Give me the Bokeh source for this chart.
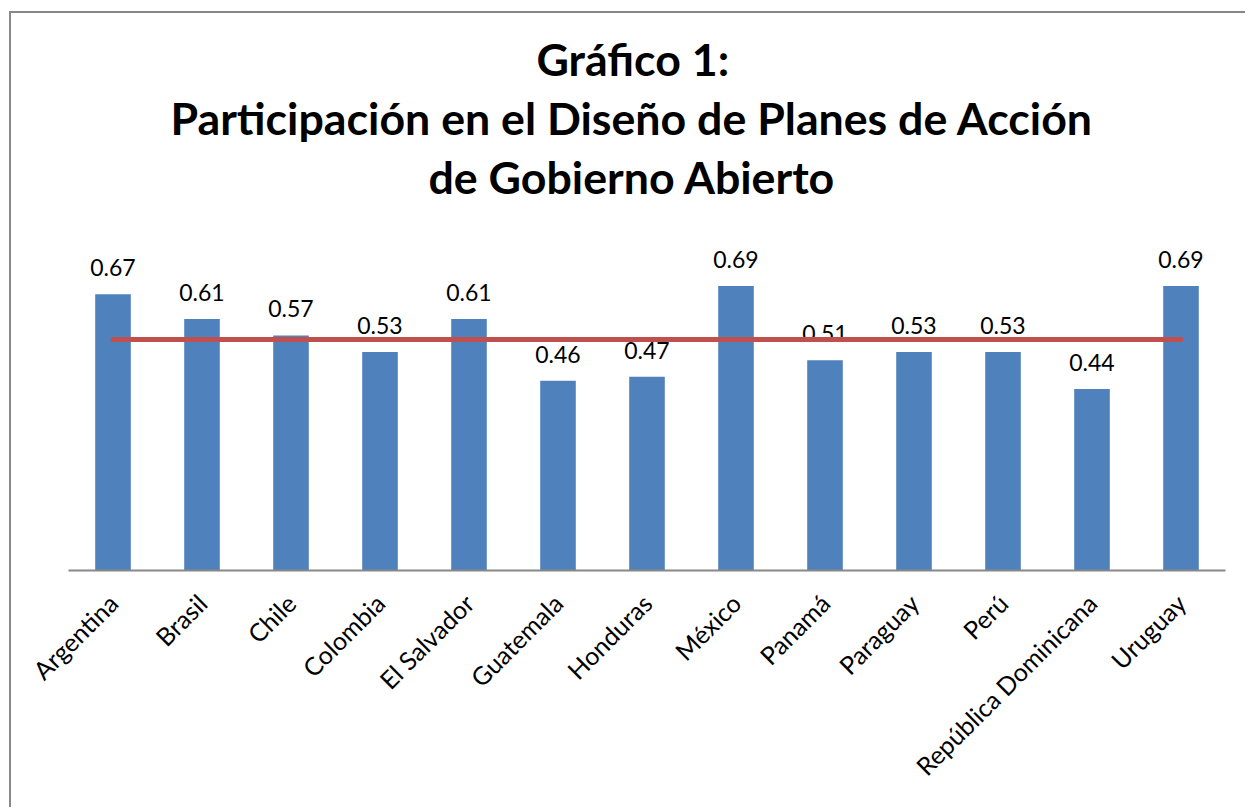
import math
from bokeh.plotting import figure
from bokeh.models import ColumnDataSource, LabelSet, Title, Range1d
from bokeh.core.properties import value
from bokeh.embed import file_html
from bokeh.resources import INLINE

# ---- data ----
paises = ["Argentina", "Brasil", "Chile", "Colombia", "El Salvador", "Guatemala",
          "Honduras", "México", "Panamá", "Paraguay", "Perú",
          "República Dominicana", "Uruguay"]
participacion = [0.67, 0.61, 0.57, 0.53, 0.61, 0.46, 0.47, 0.69, 0.51, 0.53, 0.53, 0.44, 0.69]
promedio = 0.56
titulo = ["Gráfico 1:",
          "Participación en el Diseño de Planes de Acción",
          "de Gobierno Abierto"]

FONT = "Lato"
BLUE = "#4F81BD"
RED = "#C0504D"

src = ColumnDataSource(dict(
    pais=paises,
    valor=participacion,
    etiqueta=[f"{v:.2f}" for v in participacion],
))

p = figure(x_range=paises, y_range=Range1d(0, 0.8),
           width=1236, height=796,
           min_border_left=57, min_border_right=22,
           min_border_top=227, min_border_bottom=239,
           y_axis_location=None,
           output_backend="svg", toolbar_location=None, tools="")
p.styles = {"border-left": "2px solid #888888", "border-top": "2px solid #888888",
            "margin-left": "9px", "margin-top": "11px"}
p.outline_line_color = None
p.xgrid.grid_line_color = None
p.ygrid.grid_line_color = None
p.x_range.range_padding = 0

p.vbar(x="pais", top="valor", width=0.4, source=src,
       fill_color=BLUE, line_color=None)

labels = LabelSet(x="pais", y="valor", text="etiqueta", source=src,
                  text_align="center", text_baseline="alphabetic", y_offset=18,
                  text_font=value(FONT), text_font_size=value("23px"), text_color="black")
p.add_layout(labels)

avg = p.line(x=[paises[0], paises[-1]], y=[promedio, promedio],
             line_color=RED, line_width=5, line_cap="round")
avg.level = "overlay"

ax = p.xaxis[0]
ax.axis_line_color = "#888888"
ax.axis_line_width = 2
ax.major_tick_line_color = None
ax.minor_tick_line_color = None
ax.major_label_orientation = math.pi / 4
ax.major_label_text_font = FONT
ax.major_label_text_font_size = "25px"
ax.major_label_text_color = "black"
ax.major_label_standoff = 22

# gap between the plot area and the title block
p.add_layout(Title(text=" ", standoff=31, text_font_size="2px"), "above")

# title: three lines, added from the one nearest the plot outward
for txt, off in zip(reversed(titulo), [360, 102, 468]):
    p.add_layout(Title(text=txt, align="left", offset=off, standoff=3,
                       text_font=FONT, text_font_size="44.7px",
                       text_font_style="bold", text_color="black"), "above")

open("out.html", "w").write(file_html(p, INLINE))
